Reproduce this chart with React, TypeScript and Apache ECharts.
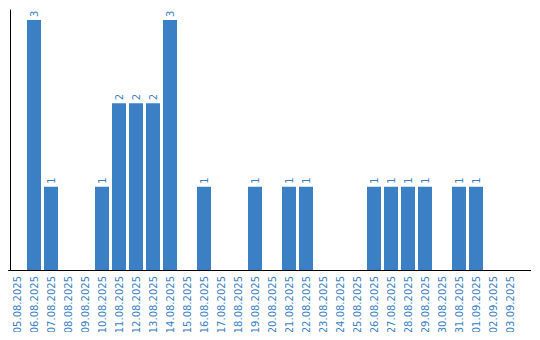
import React, { useEffect, useRef } from "react";
import * as echarts from "echarts";

const categories = [
  "05.08.2025", "06.08.2025", "07.08.2025", "08.08.2025", "09.08.2025", "10.08.2025",
  "11.08.2025", "12.08.2025", "13.08.2025", "14.08.2025", "15.08.2025", "16.08.2025",
  "17.08.2025", "18.08.2025", "19.08.2025", "20.08.2025", "21.08.2025", "22.08.2025",
  "23.08.2025", "24.08.2025", "25.08.2025", "26.08.2025", "27.08.2025", "28.08.2025",
  "29.08.2025", "30.08.2025", "31.08.2025", "01.09.2025", "02.09.2025", "03.09.2025",
];
const values = [0, 3, 1, 0, 0, 1, 2, 2, 2, 3, 0, 1, 0, 0, 1, 0, 1, 1, 0, 0, 0, 1, 1, 1, 1, 0, 1, 1, 0, 0];

const BLUE = "#3b7fc4";
const FONT = "DejaVu Sans";

export default function App() {
  const ref = useRef<HTMLDivElement>(null);
  useEffect(() => {
    if (!ref.current) return;
    const chart = echarts.init(ref.current, null, { renderer: "svg" });
    chart.setOption({
      animation: false,
      grid: { left: 8.5, right: 21.5, top: 10, bottom: 70, containLabel: false },
      xAxis: {
        type: "category",
        data: categories,
        axisLine: { lineStyle: { color: "#000", width: 1 } },
        axisTick: { show: false },
        axisLabel: {
          rotate: 90,
          interval: 0,
          color: BLUE,
          fontFamily: FONT,
          fontSize: 10,
          margin: 6,
        },
      },
      yAxis: {
        type: "value",
        min: 0,
        max: 3.12,
        offset: -1.5,
        axisLine: { show: true, lineStyle: { color: "#000", width: 1 } },
        axisTick: { show: false },
        axisLabel: { show: false },
        splitLine: { show: false },
      },
      graphic: [
        {
          type: "line",
          shape: { x1: 518, y1: 270.5, x2: 531, y2: 270.5 },
          style: { stroke: "#000", lineWidth: 1 },
          silent: true,
        },
      ],
      series: [
        {
          type: "bar",
          data: values.map((v) => (v === 0 ? null : v)),
          barWidth: 14,
          itemStyle: { color: BLUE },
          label: {
            show: true,
            position: "top",
            rotate: 90,
            align: "left",
            verticalAlign: "middle",
            distance: 3,
            color: BLUE,
            fontFamily: FONT,
            fontSize: 10,
          },
        },
      ],
    });
    return () => chart.dispose();
  }, []);
  return <div ref={ref} style={{ width: 540, height: 340, margin: -8 }} />;
}
